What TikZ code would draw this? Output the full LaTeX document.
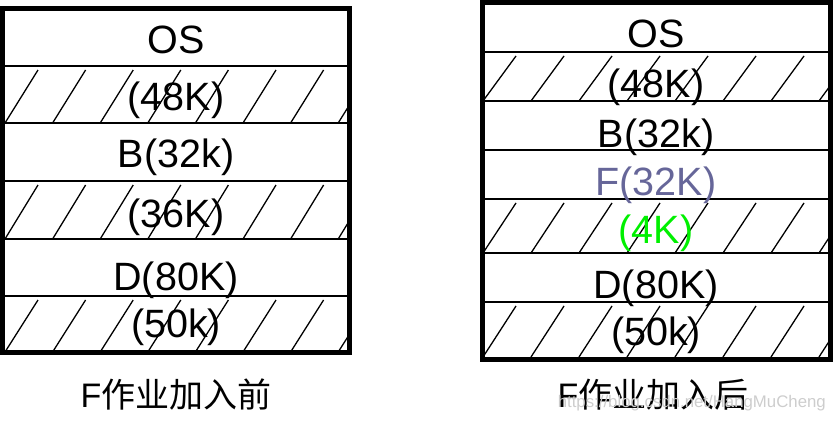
\documentclass[tikz,border=0pt]{standalone}
\usepackage{fontspec}
\setmainfont{Liberation Sans}
\newfontfamily\cjk{Noto Sans CJK SC}
\definecolor{fblue}{RGB}{102,102,153}
\definecolor{fgreen}{RGB}{0,240,0}
\definecolor{wmark}{RGB}{205,205,205}
\begin{document}
\begin{tikzpicture}[x=1pt,y=-1pt,
  frame/.style={line width=5pt},
  sepline/.style={line width=2pt},
  hatchline/.style={line width=1.3pt},
  lbl/.style={font=\fontsize{39.5}{40}\selectfont, inner sep=0pt, anchor=base},
  captext/.style={font=\fontsize{34}{36}\selectfont, inner sep=0pt, anchor=base}]
\useasboundingbox (0,0) rectangle (839,423);
% ---------- left box ----------
\foreach \t/\b in {66/123,181/239,296/352}{
  \begin{scope}
    \clip (2.5,\t) rectangle (349.5,\b);
    \foreach \i in {0,...,7}
      \draw[hatchline] (5+47.6*\i,\b) -- ++(33,{-(\b-\t-4)});
  \end{scope}
}
\foreach \y in {66,123,181,239,296}
  \draw[sepline] (2.5,\y) -- (349.5,\y);
\draw[frame] (2.5,8.5) rectangle (349.5,352.5);
\node[lbl] (l1) at (176,53) {OS};
\node[lbl] (l2) at (176,110) {(48K)};
\node[lbl] (l3) at (176,167) {B(32k)};
\node[lbl] (l4) at (176,227) {(36K)};
\node[lbl] (l5) at (176,290) {D(80K)};
\node[lbl] (l6) at (176,337) {(50k)};
\node[captext] (lc) at (176,407) {F{\cjk 作业加入前}};
% ---------- right box ----------
\foreach \t/\b in {52/101,199/253,302/357}{
  \begin{scope}
    \clip (482.5,\t) rectangle (830.5,\b);
    \foreach \i in {0,...,7}
      \draw[hatchline] (483+48*\i,\b) -- ++(33,{-(\b-\t-4)});
  \end{scope}
}
\foreach \y in {52,101,150,199,253,302}
  \draw[sepline] (482.5,\y) -- (830.5,\y);
\draw[frame] (482.5,2.5) rectangle (830.5,359.5);
\node[lbl] (r1) at (656,47) {OS};
\node[lbl] (r2) at (656,97) {(48K)};
\node[lbl] (r3) at (656,147) {B(32k)};
\node[lbl,text=fblue] (r4) at (656,195) {F(32K)};
\node[lbl,text=fgreen] (r5) at (656,243) {(4K)};
\node[lbl] (r6) at (656,298) {D(80K)};
\node[lbl] (r7) at (656,345) {(50k)};
\node[captext] (rc) at (653,407) {F{\cjk 作业加入后}};
\node[font=\fontsize{16.8}{17}\selectfont, text=wmark, inner sep=0pt, anchor=base east] (wm) at (826,407) {https://blog.csdn.net/HangMuCheng};
\end{tikzpicture}
\end{document}
